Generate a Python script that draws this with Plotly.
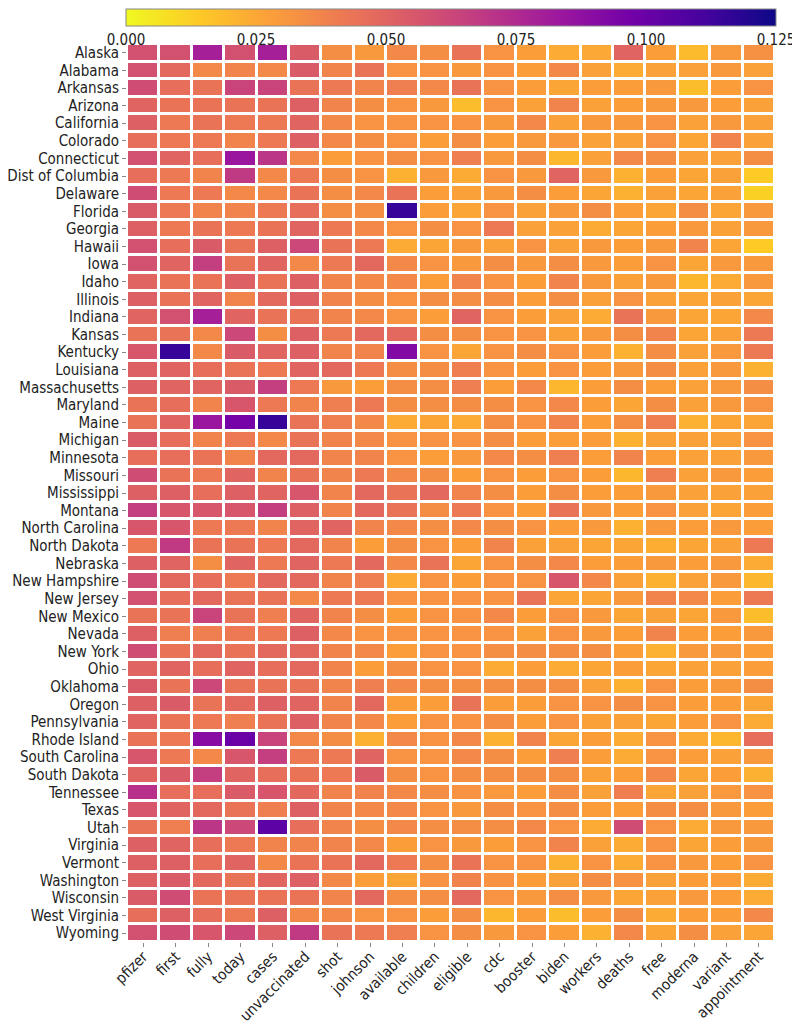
import plotly.graph_objects as go

states = ["Alaska", "Alabama", "Arkansas", "Arizona", "California", "Colorado",
          "Connecticut", "Dist of Columbia", "Delaware", "Florida", "Georgia",
          "Hawaii", "Iowa", "Idaho", "Illinois", "Indiana", "Kansas", "Kentucky",
          "Louisiana", "Massachusetts", "Maryland", "Maine", "Michigan",
          "Minnesota", "Missouri", "Mississippi", "Montana", "North Carolina",
          "North Dakota", "Nebraska", "New Hampshire", "New Jersey", "New Mexico",
          "Nevada", "New York", "Ohio", "Oklahoma", "Oregon", "Pennsylvania",
          "Rhode Island", "South Carolina", "South Dakota", "Tennessee", "Texas",
          "Utah", "Virginia", "Vermont", "Washington", "Wisconsin",
          "West Virginia", "Wyoming"]

terms = ["pfizer", "first", "fully", "today", "cases", "unvaccinated", "shot",
         "johnson", "available", "children", "eligible", "cdc", "booster",
         "biden", "workers", "deaths", "free", "moderna", "variant",
         "appointment"]

# term share per state, in thousandths
shares = [
    [58, 58, 80, 58, 80, 54, 34, 30, 36, 34, 44, 32, 28, 24, 25, 50, 28, 19, 30, 33],
    [58, 48, 36, 38, 36, 54, 38, 44, 32, 32, 30, 32, 28, 36, 27, 24, 27, 27, 30, 27],
    [60, 46, 44, 64, 64, 44, 42, 38, 40, 36, 44, 32, 28, 26, 28, 28, 30, 18, 28, 32],
    [50, 44, 44, 44, 44, 52, 38, 34, 32, 30, 18, 32, 27, 38, 27, 28, 30, 30, 28, 27],
    [52, 42, 44, 42, 42, 50, 36, 32, 32, 32, 32, 30, 36, 27, 30, 30, 32, 27, 30, 27],
    [46, 42, 42, 38, 42, 52, 36, 34, 32, 28, 34, 28, 30, 30, 27, 27, 32, 26, 38, 27],
    [58, 50, 46, 84, 70, 36, 28, 32, 34, 32, 40, 30, 34, 20, 27, 36, 34, 27, 27, 34],
    [46, 42, 38, 68, 36, 42, 34, 32, 22, 30, 24, 32, 30, 50, 30, 22, 28, 26, 27, 14],
    [60, 42, 42, 36, 36, 44, 34, 36, 44, 28, 27, 30, 34, 28, 26, 22, 27, 26, 27, 12],
    [54, 42, 38, 38, 42, 46, 34, 34, 115, 28, 26, 32, 27, 30, 34, 28, 26, 34, 26, 30],
    [52, 42, 44, 42, 44, 50, 42, 36, 32, 34, 32, 42, 27, 27, 24, 26, 28, 30, 27, 30],
    [58, 46, 54, 44, 52, 62, 44, 42, 24, 26, 30, 27, 32, 27, 30, 28, 30, 38, 26, 14],
    [58, 50, 66, 44, 50, 36, 42, 48, 36, 32, 30, 34, 30, 34, 30, 28, 32, 26, 30, 30],
    [50, 44, 44, 52, 44, 52, 38, 36, 36, 28, 38, 32, 28, 38, 30, 27, 30, 20, 24, 30],
    [52, 44, 50, 38, 48, 52, 38, 34, 32, 34, 34, 34, 28, 34, 27, 32, 27, 26, 27, 26],
    [50, 58, 80, 50, 44, 44, 38, 36, 32, 28, 50, 32, 28, 27, 24, 44, 30, 26, 26, 36],
    [44, 44, 36, 62, 34, 52, 42, 48, 48, 34, 34, 32, 32, 27, 30, 34, 38, 26, 27, 42],
    [56, 115, 36, 54, 50, 52, 38, 38, 92, 32, 26, 32, 34, 32, 28, 22, 34, 27, 30, 42],
    [52, 50, 46, 44, 42, 50, 48, 42, 34, 34, 40, 32, 28, 32, 28, 30, 34, 27, 30, 22],
    [52, 50, 50, 54, 66, 42, 30, 28, 34, 34, 40, 28, 36, 20, 28, 34, 28, 27, 30, 34],
    [44, 46, 38, 56, 42, 38, 40, 42, 34, 34, 34, 34, 32, 36, 28, 26, 34, 27, 30, 32],
    [44, 50, 84, 96, 115, 44, 40, 36, 24, 26, 24, 34, 32, 38, 28, 34, 40, 22, 26, 26],
    [54, 46, 38, 42, 36, 44, 38, 36, 32, 32, 32, 34, 28, 28, 28, 22, 27, 27, 27, 32],
    [46, 46, 44, 38, 48, 48, 38, 38, 32, 28, 30, 36, 34, 40, 28, 38, 28, 27, 27, 30],
    [60, 44, 42, 50, 38, 44, 38, 42, 36, 34, 28, 32, 28, 32, 28, 20, 40, 27, 30, 28],
    [52, 52, 46, 52, 50, 56, 38, 48, 44, 48, 38, 34, 28, 34, 28, 28, 30, 27, 27, 27],
    [66, 56, 56, 56, 66, 52, 38, 48, 44, 34, 42, 32, 28, 44, 30, 28, 32, 27, 26, 28],
    [56, 56, 42, 42, 38, 50, 50, 38, 36, 34, 36, 34, 32, 28, 30, 22, 30, 28, 30, 28],
    [42, 68, 44, 44, 42, 48, 38, 28, 34, 32, 28, 38, 27, 27, 26, 26, 23, 26, 27, 42],
    [52, 50, 34, 50, 42, 50, 42, 48, 36, 44, 26, 32, 34, 36, 28, 28, 30, 28, 30, 24],
    [60, 48, 46, 42, 48, 48, 38, 40, 24, 32, 28, 32, 32, 56, 36, 27, 22, 27, 30, 20],
    [58, 46, 48, 44, 44, 36, 42, 42, 32, 32, 32, 32, 44, 26, 26, 30, 38, 36, 28, 42],
    [44, 44, 64, 44, 40, 50, 38, 34, 28, 32, 32, 36, 28, 32, 30, 26, 27, 26, 30, 18],
    [52, 40, 40, 42, 42, 52, 36, 32, 32, 32, 32, 32, 27, 32, 30, 28, 38, 28, 28, 30],
    [60, 44, 48, 44, 48, 48, 38, 36, 28, 32, 32, 34, 34, 34, 34, 28, 22, 30, 30, 28],
    [50, 50, 46, 50, 46, 48, 38, 28, 34, 32, 32, 24, 28, 24, 26, 28, 26, 27, 27, 28],
    [54, 44, 62, 44, 44, 44, 38, 40, 36, 34, 34, 34, 34, 34, 27, 22, 32, 28, 30, 34],
    [52, 54, 44, 48, 52, 50, 38, 48, 28, 28, 44, 28, 28, 32, 32, 34, 32, 28, 28, 26],
    [50, 44, 42, 40, 44, 52, 38, 36, 28, 32, 32, 34, 28, 32, 27, 27, 26, 28, 32, 24],
    [44, 42, 90, 100, 64, 36, 34, 22, 36, 32, 36, 22, 38, 26, 28, 24, 32, 24, 20, 46],
    [56, 42, 36, 56, 66, 42, 42, 50, 32, 32, 36, 34, 28, 40, 28, 24, 32, 28, 27, 30],
    [50, 54, 66, 50, 46, 44, 42, 54, 34, 32, 34, 34, 34, 34, 27, 28, 36, 26, 28, 22],
    [72, 46, 46, 54, 56, 48, 38, 38, 36, 34, 32, 30, 28, 34, 27, 40, 26, 27, 30, 32],
    [56, 50, 48, 44, 40, 52, 38, 36, 36, 32, 30, 34, 32, 34, 28, 28, 34, 34, 30, 28],
    [44, 40, 70, 62, 104, 46, 38, 34, 36, 34, 34, 34, 36, 32, 24, 60, 32, 24, 30, 30],
    [52, 50, 46, 42, 38, 38, 38, 36, 28, 32, 30, 28, 32, 38, 27, 24, 32, 26, 28, 30],
    [52, 52, 46, 50, 36, 44, 44, 48, 42, 34, 44, 32, 32, 22, 32, 24, 32, 30, 28, 32],
    [52, 54, 48, 44, 50, 52, 36, 28, 26, 32, 38, 32, 28, 27, 34, 32, 27, 28, 28, 24],
    [54, 60, 44, 44, 44, 44, 38, 48, 34, 34, 48, 32, 30, 34, 30, 26, 27, 30, 28, 24],
    [46, 52, 46, 42, 52, 36, 36, 32, 32, 28, 34, 20, 28, 18, 28, 34, 24, 28, 28, 36],
    [58, 60, 56, 62, 52, 68, 44, 42, 40, 32, 34, 30, 32, 28, 22, 36, 26, 34, 27, 26],
]

z = [[v / 1000 for v in row] for row in shares]
cbar_ticks = [0.0, 0.025, 0.05, 0.075, 0.1, 0.125]

FONT = "DejaVu Sans Condensed, DejaVu Sans"

# the page body adds an 8px margin, so the figure is sized 8px smaller
fig = go.Figure(go.Heatmap(
    z=z, x=terms, y=states,
    colorscale="Plasma", reversescale=True, zmin=0, zmax=0.125,
    xgap=3, ygap=3, hoverinfo="skip",
    colorbar=dict(orientation="h", x=0.5, xanchor="center", y=1 + 35 / 898,
                  yanchor="top", len=1.003, lenmode="fraction", thickness=17,
                  outlinewidth=1, outlinecolor="#888888", xpad=0, ypad=0,
                  tickvals=cbar_ticks, tickformat=".3f", ticks="",
                  tickfont=dict(size=15, color="#222222")),
))

fig.update_layout(
    width=792, height=1017,
    margin=dict(l=119, r=25, t=36, b=83, autoexpand=False),
    plot_bgcolor="white", paper_bgcolor="white",
    font=dict(family=FONT, size=15, color="#222222"),
    xaxis=dict(tickangle=-45, ticks="outside", ticklen=4, tickcolor="#888888",
               showgrid=False, zeroline=False, automargin=False,
               ticklabelstandoff=-5,
               tickmode="array", tickvals=terms, tickfont=dict(size=15)),
    yaxis=dict(autorange="reversed", ticks="outside", ticklen=4,
               tickcolor="#888888", showgrid=False, zeroline=False,
               automargin=False, tickmode="array", tickvals=states,
               tickfont=dict(size=15)),
)

fig.write_html("out.html")
